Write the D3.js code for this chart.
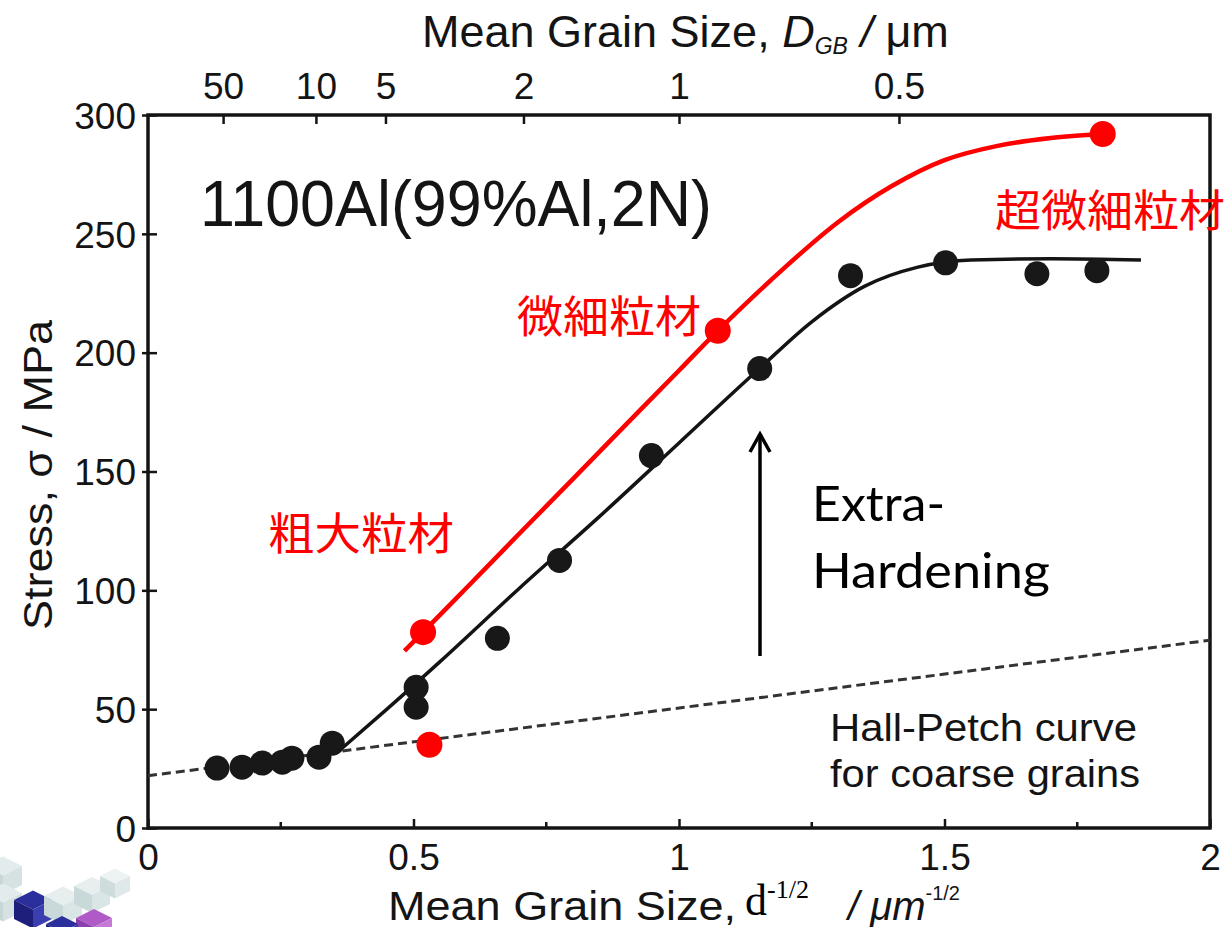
<!DOCTYPE html>
<html>
<head>
<meta charset="utf-8">
<script src="https://cdn.jsdelivr.net/npm/d3@7"></script>
<style>
  html, body { margin: 0; padding: 0; background: #fff; }
  svg { display: block; }
</style>
</head>
<body>
<svg id="chart" width="1231" height="927"></svg>
<script>
// Measured strength of 1100 aluminium versus inverse square root of grain size
const pointX = [0.130, 0.177, 0.215, 0.253, 0.271, 0.322, 0.347, 0.505, 0.505, 0.658, 0.775, 0.948, 1.152, 1.323, 1.502, 1.674, 1.787];
const pointY = [25.2, 25.6, 27.3, 27.7, 29.4, 29.8, 35.7, 59.2, 50.8, 79.8, 112.6, 156.7, 193.3, 232.4, 237.8, 233.2, 234.5];

// Fitted trend through the measured points
const fitX = [0.36, 0.45, 0.55, 0.70, 0.85, 1.00, 1.15, 1.25, 1.35, 1.45, 1.55, 1.70, 1.87];
const fitY = [32.5, 50, 70, 101, 131, 162, 193, 213, 228, 236, 239, 239.5, 239];

// Hall-Petch line for coarse grains (end points)
const hpX = [0, 2];
const hpY = [22, 79];

// Red extra-hardening curve and its marked points
const redX = [0.483, 0.518, 0.60, 0.70, 0.80, 0.90, 1.00, 1.073, 1.20, 1.30, 1.40, 1.50, 1.60, 1.70, 1.798];
const redY = [74.5, 82.4, 101.1, 124, 146.8, 169.7, 192.5, 209.2, 236, 255, 270, 281, 287, 290.3, 292];
const redDotX = [0.518, 1.073, 1.798, 0.530];
const redDotY = [82.4, 209.2, 292, 35];

// Axis ticks
const bottomTicks = [0, 0.5, 1, 1.5, 2];
const bottomTickLabels = ["0", "0.5", "1", "1.5", "2"];
const bottomMinorTicks = [0.25, 0.75, 1.25, 1.75];
const leftTicks = [0, 50, 100, 150, 200, 250, 300];
const topTicks = [50, 10, 5, 2, 1, 0.5];

const svg = d3.select("#chart");
const L = 148, R = 1210, T = 115, B = 828;

const x = d3.scaleLinear().domain([0, 2]).range([L, R]);
const y = d3.scaleLinear().domain([0, 300]).range([B, T]);
// grain size D maps to D^-1/2 on the same horizontal axis
const xTop = d3.scalePow().exponent(-0.5).domain([0.25, 1]).range([x(2), x(1)]);

const sans = "'Liberation Sans', Arial, sans-serif";
const ink = "#141414";

// --- small cube emblem in the lower-left corner
const logo = svg.append("g").attr("class", "logo");
function cube(cx, cy, s, top, left, right) {
  const h = s * 0.5;
  logo.append("polygon").attr("points", `${cx},${cy} ${cx + s},${cy - h} ${cx + 2 * s},${cy} ${cx + s},${cy + h}`).attr("fill", top);
  logo.append("polygon").attr("points", `${cx},${cy} ${cx + s},${cy + h} ${cx + s},${cy + h + s} ${cx},${cy + s}`).attr("fill", left);
  logo.append("polygon").attr("points", `${cx + s},${cy + h} ${cx + 2 * s},${cy} ${cx + 2 * s},${cy + s} ${cx + s},${cy + h + s}`).attr("fill", right);
}
cube(-16, 866, 19, "#e3ecec", "#c7d6d6", "#d6e2e2");
cube(-16, 893, 19, "#e3ecec", "#c7d6d6", "#d6e2e2");
cube(14, 900, 19, "#2b2f9c", "#1d1f7a", "#3a3eb0");
cube(44, 896, 19, "#e6eeee", "#c9d8d8", "#dae5e5");
cube(74, 886, 18, "#e6eeee", "#c9d8d8", "#dae5e5");
cube(100, 876, 15, "#edf2f2", "#cfdcdc", "#e0e9e9");
cube(76, 918, 18, "#b05ac8", "#8d3fae", "#c779d8");
cube(46, 924, 16, "#2b2f9c", "#1d1f7a", "#3a3eb0");

// --- frame
svg.append("rect")
  .attr("x", L).attr("y", T).attr("width", R - L).attr("height", B - T)
  .attr("fill", "none").attr("stroke", ink).attr("stroke-width", 3.5);

// --- bottom axis (ticks point into the plot)
const gB = svg.append("g").attr("transform", `translate(0,${B})`)
  .call(d3.axisBottom(x).tickValues(bottomTicks).tickSize(-9)
    .tickFormat((d, i) => bottomTickLabels[i]));
gB.select(".domain").remove();
gB.selectAll(".tick line").attr("stroke", ink).attr("stroke-width", 2.5);
gB.selectAll(".tick text").attr("y", 42).attr("dy", 0)
  .attr("font-family", sans).attr("font-size", 37).attr("fill", ink);
gB.selectAll(".minor").data(bottomMinorTicks).enter().append("line")
  .attr("x1", d => x(d)).attr("x2", d => x(d)).attr("y1", 0).attr("y2", -6)
  .attr("stroke", ink).attr("stroke-width", 2.5);

// --- left axis
const gL = svg.append("g").attr("transform", `translate(${L},0)`)
  .call(d3.axisLeft(y).tickValues(leftTicks).tickSize(6).tickPadding(4));
gL.select(".domain").remove();
gL.selectAll(".tick line").attr("stroke", ink).attr("stroke-width", 2.5).attr("x2", 9).attr("x1", -6);
gL.selectAll(".tick text").attr("x", -12).attr("dy", "0.36em")
  .attr("font-family", sans).attr("font-size", 37).attr("fill", ink);

// --- top axis in grain size
const gT = svg.append("g").attr("transform", `translate(0,${T})`)
  .call(d3.axisTop(xTop).tickValues(topTicks).tickSize(-9).tickFormat(d3.format("")));
gT.select(".domain").remove();
gT.selectAll(".tick line").attr("stroke", ink).attr("stroke-width", 2.5);
gT.selectAll(".tick text").attr("y", -16).attr("dy", 0)
  .attr("font-family", sans).attr("font-size", 37).attr("fill", ink);

// --- axis titles
const topTitle = svg.append("text").attr("x", 422).attr("y", 47)
  .attr("font-family", sans).attr("font-size", 45).attr("fill", ink);
topTitle.append("tspan").text("Mean Grain Size, ");
topTitle.append("tspan").attr("font-style", "italic").text("D");
topTitle.append("tspan").attr("font-size", 23).attr("font-style", "italic").attr("dy", 7).text("GB");
topTitle.append("tspan").attr("dy", -7).attr("font-style", "italic").text(" /");
topTitle.append("tspan").text(" μm");

svg.append("text")
  .attr("transform", "translate(52,475) rotate(-90)")
  .attr("text-anchor", "middle")
  .attr("font-family", sans).attr("font-size", 40).attr("fill", ink)
  .attr("textLength", 310).attr("lengthAdjust", "spacingAndGlyphs")
  .text("Stress, σ / MPa");

const botTitle = svg.append("text").attr("x", 388).attr("y", 920)
  .attr("font-family", sans).attr("font-size", 40).attr("fill", ink);
botTitle.append("tspan").attr("textLength", 348).attr("lengthAdjust", "spacingAndGlyphs").text("Mean Grain Size,");
const dPart = svg.append("text").attr("x", 745).attr("y", 915)
  .attr("font-family", "'Liberation Serif', 'Times New Roman', serif").attr("font-size", 44).attr("fill", "#000");
dPart.append("tspan").text("d");
dPart.append("tspan").attr("font-size", 26).attr("dy", -17).text("-1/2");
const unitPart = svg.append("text").attr("x", 848).attr("y", 920)
  .attr("font-family", sans).attr("font-size", 40).attr("fill", ink);
unitPart.append("tspan").attr("font-style", "italic").text("/ μm");
unitPart.append("tspan").attr("font-size", 20).attr("dy", -20).text("-1/2");

// --- Hall-Petch line
const line = d3.line().x(d => x(d[0])).y(d => y(d[1]));
svg.append("path")
  .datum(hpX.map((v, i) => [v, hpY[i]]))
  .attr("d", line)
  .attr("fill", "none").attr("stroke", "#333").attr("stroke-width", 3)
  .attr("stroke-dasharray", "9 5");

// --- fitted curve
svg.append("path")
  .datum(fitX.map((v, i) => [v, fitY[i]]))
  .attr("d", line.curve(d3.curveMonotoneX))
  .attr("fill", "none").attr("stroke", ink).attr("stroke-width", 3.5);

// --- measured points
svg.append("g").selectAll("circle")
  .data(pointX.map((v, i) => [v, pointY[i]]))
  .enter().append("circle")
  .attr("cx", d => x(d[0])).attr("cy", d => y(d[1])).attr("r", 12.5)
  .attr("fill", "#181818");

// --- red curve and points
svg.append("path")
  .datum(redX.map((v, i) => [v, redY[i]]))
  .attr("d", d3.line().x(d => x(d[0])).y(d => y(d[1])).curve(d3.curveCatmullRom.alpha(0.5)))
  .attr("fill", "none").attr("stroke", "#f00").attr("stroke-width", 4.5);
svg.append("g").selectAll("circle")
  .data(redDotX.map((v, i) => [v, redDotY[i]]))
  .enter().append("circle")
  .attr("cx", d => x(d[0])).attr("cy", d => y(d[1])).attr("r", 13)
  .attr("fill", "#f00");

// --- annotations
svg.append("text").attr("x", 200).attr("y", 226)
  .attr("font-family", sans).attr("font-size", 64).attr("fill", ink)
  .attr("textLength", 512).attr("lengthAdjust", "spacingAndGlyphs")
  .text("1100Al(99%Al,2N)");

const hp = svg.append("g").attr("font-family", sans).attr("font-size", 38).attr("fill", ink);
hp.append("text").attr("x", 830).attr("y", 741)
  .attr("textLength", 307).attr("lengthAdjust", "spacingAndGlyphs").text("Hall-Petch curve");
hp.append("text").attr("x", 830).attr("y", 787)
  .attr("textLength", 310).attr("lengthAdjust", "spacingAndGlyphs").text("for coarse grains");

const cjk = "'Noto Sans CJK JP', 'Noto Sans CJK SC', sans-serif";
const redLabels = [
  { t: "粗大粒材", x: 268, y: 550, w: 186 },
  { t: "微細粒材", x: 517, y: 333, w: 184 },
  { t: "超微細粒材", x: 995, y: 227, w: 230 }
];
svg.append("g").selectAll("text").data(redLabels).enter().append("text")
  .attr("x", d => d.x).attr("y", d => d.y)
  .attr("font-family", cjk).attr("font-size", 44).attr("fill", "#f00")
  .attr("textLength", d => d.w).attr("lengthAdjust", "spacingAndGlyphs")
  .text(d => d.t);

// extra-hardening arrow
svg.append("line").attr("x1", 760).attr("x2", 760).attr("y1", 656).attr("y2", 435)
  .attr("stroke", "#000").attr("stroke-width", 3.5);
svg.append("path").attr("d", "M750,452 L760,434 L770,452")
  .attr("fill", "none").attr("stroke", "#000").attr("stroke-width", 3.5).attr("stroke-linejoin", "miter");

const eh = svg.append("g").attr("font-family", "Lato, 'Open Sans', sans-serif").attr("font-size", 48).attr("fill", "#000");
eh.append("text").attr("x", 812).attr("y", 521)
  .attr("textLength", 133).attr("lengthAdjust", "spacingAndGlyphs").text("Extra-");
eh.append("text").attr("x", 812).attr("y", 588)
  .attr("textLength", 238).attr("lengthAdjust", "spacingAndGlyphs").text("Hardening");
</script>
</body>
</html>
